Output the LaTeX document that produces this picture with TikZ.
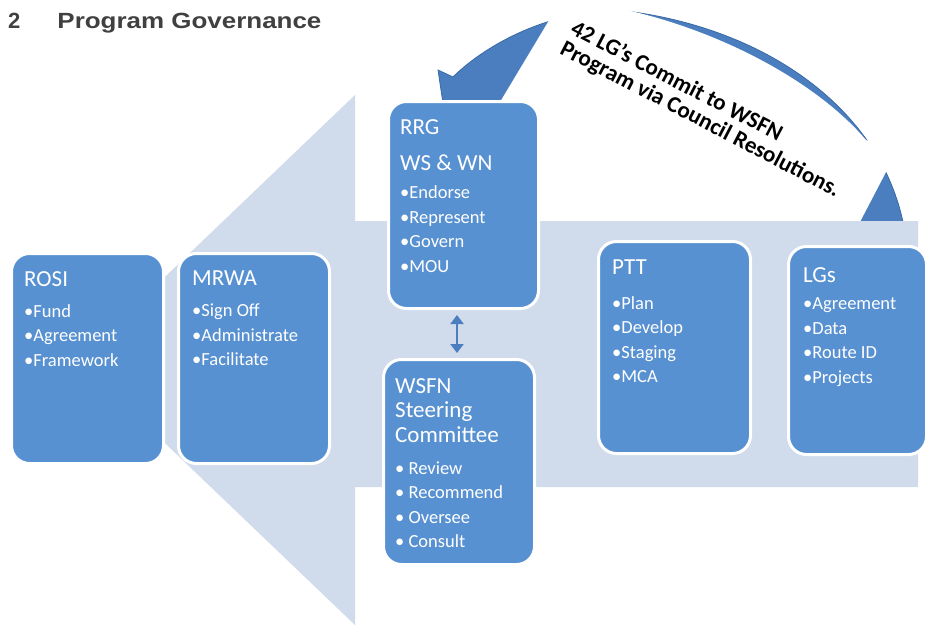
\documentclass[tikz,border=0pt]{standalone}
\usepackage{fontspec}
\setmainfont{Carlito}
\newfontfamily\titlefont{Liberation Sans}
\usetikzlibrary{arrows.meta,positioning,calc}
\definecolor{govblue}{HTML}{5891D1}
\definecolor{arcblue}{HTML}{4A7EBF}
\definecolor{arcedge}{HTML}{3A6AA5}
\definecolor{backdrop}{HTML}{D0DBEB}
\definecolor{heading}{HTML}{404040}
\newcommand\boxhead{\fontsize{23}{25}\selectfont}

\begin{document}
\begin{tikzpicture}[x=1pt,y=-1pt,
  govbox/.style={draw=white,line width=3pt,fill=govblue,rounded corners=18pt,anchor=north west,inner sep=0pt},
  boxtext/.style={anchor=north west,inner sep=0pt,align=left,text=white,font=\fontsize{18.5}{24.5}\selectfont},
  updown/.style={{Triangle[width=13pt,length=9pt]}-{Triangle[width=13pt,length=9pt]},arcblue,line width=2pt,shorten <=5pt,shorten >=5pt}]
  \useasboundingbox (0,0) rectangle (928,625);
  % curved arrow LGs -> RRG
  \filldraw[fill=arcblue,draw=arcedge,line width=0.8pt]
    (903,222) .. controls (878,105) and (760,25) .. (617,10)
    .. controls (540,12) and (480,50) .. (453,77)
    -- (438,70) -- (447,130) -- (528,102) -- (505,100)
    .. controls (530,75) and (560,58) .. (600,57)
    .. controls (700,55) and (835,120) .. (858,222) -- cycle;
  % white cover of the text, hides the middle of the arc
  \fill[white] (548,22) -- (560,2) -- (617,8) .. controls (715,28) and (815,80) .. (866,140)
    -- (896,150) -- (886,172) -- (849,243) -- (497,107) -- cycle;
  \begin{scope}[shift={(566,-12.6)},rotate=-27.5]
    \node[transform shape,anchor=north west,inner sep=0pt,align=left,font=\bfseries\fontsize{23}{23}\selectfont] (commit) at (24,22)
      {42 LG’s Commit to WSFN\\Program via Council Resolutions.};
  \end{scope}
  % big arrow behind the boxes
  \fill[backdrop] (918,221) -- (355,221) -- (355,95) -- (78,360) -- (355,625) -- (355,487) -- (918,487) -- cycle;
  % boxes
  \node[govbox,minimum width=152pt,minimum height=210pt] (rosi) at (10,252) {};
  \node[govbox,minimum width=151pt,minimum height=210pt] (mrwa) at (177,252) {};
  \node[govbox,minimum width=150pt,minimum height=207pt] (rrg) at (387,100) {};
  \node[govbox,minimum width=151pt,minimum height=205pt] (wsfn) at (382,358) {};
  \node[govbox,minimum width=152pt,minimum height=212pt] (ptt) at (597,240) {};
  \node[govbox,minimum width=138pt,minimum height=208pt] (lgs) at (787,245) {};
  \node[boxtext,below right=19pt and 14pt of rosi.north west] (rosi-txt)
    {{\boxhead ROSI}\\[6.5pt]•Fund\\•Agreement\\•Framework};
  \node[boxtext,below right=19pt and 15pt of mrwa.north west] (mrwa-txt)
    {{\boxhead MRWA}\\[6.5pt]•Sign Off\\•Administrate\\•Facilitate};
  \node[boxtext,below right=19pt and 13pt of rrg.north west] (rrg-txt)
    {{\boxhead RRG}\\[11.5pt]{\boxhead WS \& WN}\\[4pt]•Endorse\\•Represent\\•Govern\\•MOU};
  \node[boxtext,below right=20pt and 13pt of wsfn.north west] (wsfn-txt)
    {{\boxhead WSFN}\\{\boxhead Steering}\\{\boxhead Committee}\\[7.5pt]• Review\\• Recommend\\• Oversee\\• Consult};
  \node[boxtext,below right=20pt and 15pt of ptt.north west] (ptt-txt)
    {{\boxhead PTT}\\[10pt]•Plan\\•Develop\\•Staging\\•MCA};
  \node[boxtext,below right=22pt and 16pt of lgs.north west] (lgs-txt)
    {{\boxhead LGs}\\[3pt]•Agreement\\•Data\\•Route ID\\•Projects};
  \draw[updown] ([xshift=-2pt]wsfn.north) -- ([xshift=-2pt]wsfn.north |- rrg.south);
  % heading
  \node[anchor=base west,inner sep=0pt,text=heading,font=\titlefont\bfseries\fontsize{22}{26}\selectfont] (title) at (8,28)
    {2\hspace{37pt}\scalebox{1.18}[1]{Program Governance}};
\end{tikzpicture}
\end{document}
